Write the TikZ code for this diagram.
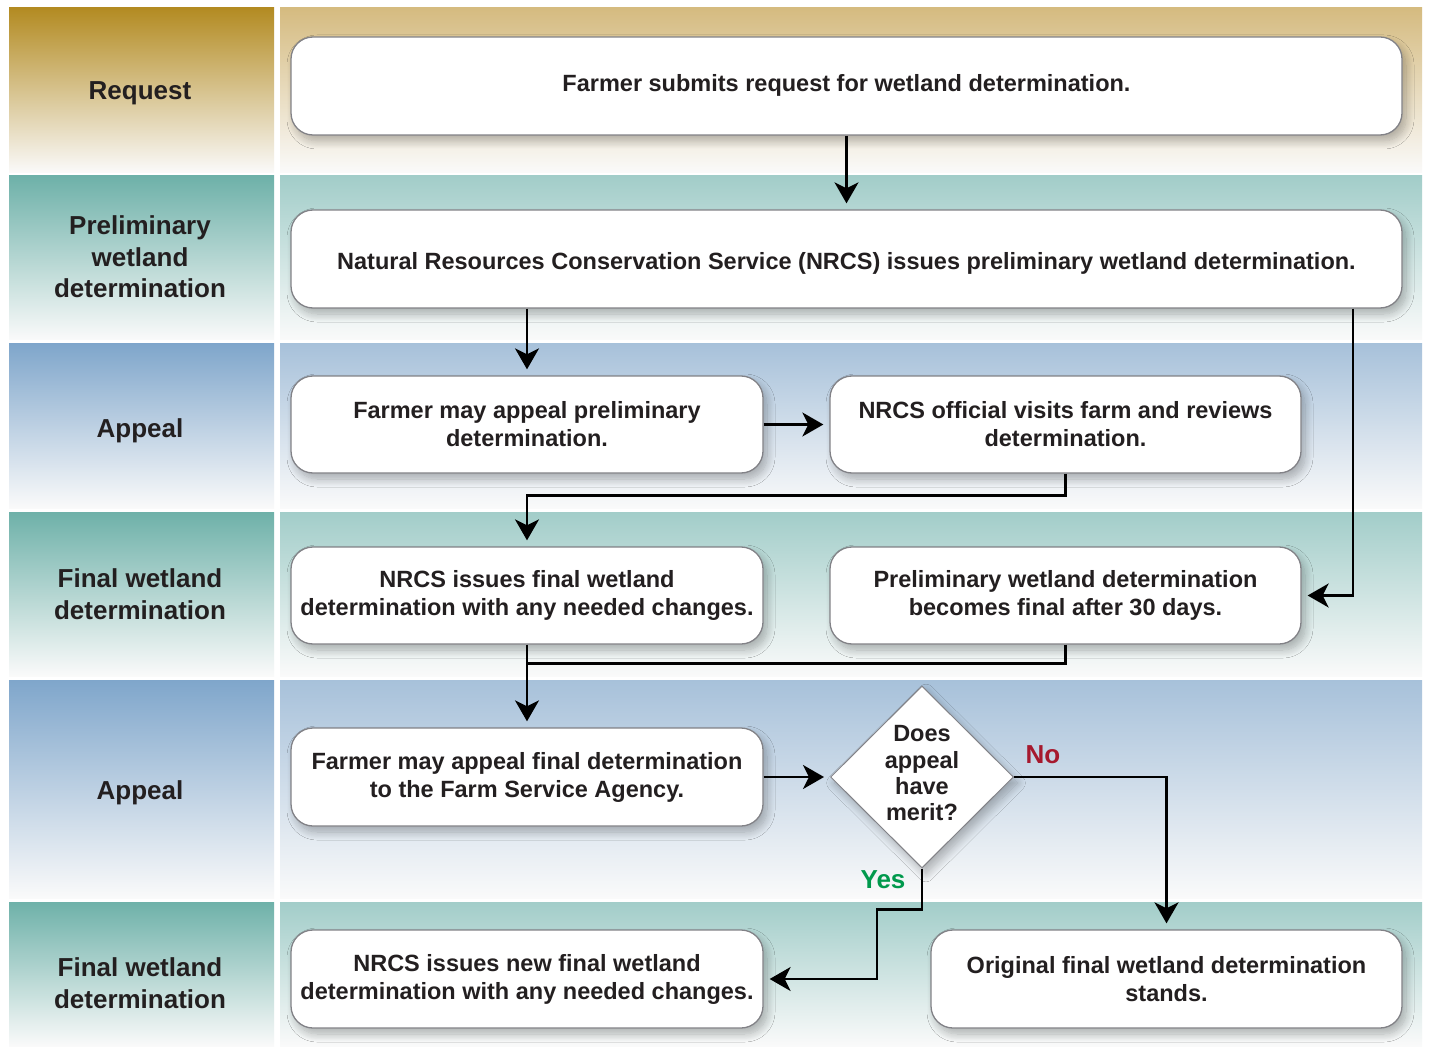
\documentclass[tikz,border=0pt]{standalone}
\usepackage{fontspec}
\setmainfont{Liberation Sans}
\usetikzlibrary{arrows.meta,shapes.geometric,shadows.blur}
\definecolor{goldA}{RGB}{179,139,34}
\definecolor{goldB}{RGB}{213,187,128}
\definecolor{tealA}{RGB}{110,177,169}
\definecolor{tealB}{RGB}{162,205,201}
\definecolor{blueA}{RGB}{127,166,203}
\definecolor{blueB}{RGB}{167,193,218}
\definecolor{txt}{RGB}{35,31,32}
\definecolor{nored}{RGB}{166,25,46}
\definecolor{yesgreen}{RGB}{0,153,76}
\definecolor{fadew}{RGB}{250,250,250}
\definecolor{boxline}{RGB}{130,130,135}
\newcommand{\lowered}[2]{\raisebox{#1}[\height][\depth]{#2}}
\begin{document}
\begin{tikzpicture}[x=1pt,y=-1pt,
  boxfont/.style={font=\fontsize{23.5}{28}\selectfont\bfseries},
  shadowed/.style={blur shadow={shadow xshift=4pt, shadow yshift=-6pt, shadow blur radius=8pt, shadow opacity=28, shadow blur steps=14}},
  box/.style={draw=boxline, line width=1.3pt, fill=white, rounded corners=22pt,
    align=center, text=txt, boxfont, inner sep=0pt, shadowed,
    minimum width=472pt, minimum height=97pt},
  widebox/.style={box, minimum width=1111pt, minimum height=98pt},
  decision/.style={diamond, aspect=1, draw=boxline, line width=1pt, fill=white,
    align=center, text=txt, font=\fontsize{23.5}{26.3}\selectfont\bfseries,
    inner sep=0pt, minimum width=183pt, minimum height=182pt, shadowed},
  lanelabel/.style={align=center, text=txt, font=\fontsize{26}{31.5}\selectfont\bfseries},
  flow/.style={line width=2.5pt, draw=black},
  arr/.style={flow, -{Stealth[length=21pt,width=24pt,inset=6pt]}, shorten >=6pt},
  band/.style={draw=none, shading=axis, bottom color=fadew}
]
\useasboundingbox (0,0) rectangle (1429,1048);
\fill[white] (0,0) rectangle (1429,1048);
% lanes
\foreach \ya/\yb/\ca/\cb in {8/173/goldA/goldB, 176/340/tealA/tealB, 344/508/blueA/blueB,
                             512/676/tealA/tealB, 680/898/blueA/blueB, 902/1046/tealA/tealB}{
  \shade[band, top color=\ca] (9,\ya) rectangle (274,\yb);
  \shade[band, top color=\cb] (280,\ya) rectangle (1422,\yb);
}
% lane labels
\node[lanelabel] (l1) at (140,93) {Request};
\node[lanelabel] (l2) at (140,257) {Preliminary\\wetland\\determination};
\node[lanelabel] (l3) at (140,431) {Appeal};
\node[lanelabel] (l4) at (140,594) {Final wetland\\determination};
\node[lanelabel] (l5) at (140,793) {Appeal};
\node[lanelabel] (l6) at (140,983) {Final wetland\\determination};
% boxes
\node[widebox] (b1) at (846.5,86) {\lowered{1pt}{Farmer submits request for wetland determination.}};
\node[widebox] (b2) at (846.5,259) {\lowered{-4pt}{Natural Resources Conservation Service (NRCS) issues preliminary wetland determination.}};
\node[box] (b3) at (527,424.5) {Farmer may appeal preliminary\\determination.};
\node[box, minimum width=471pt] (b4) at (1065.5,424.5) {NRCS official visits farm and reviews\\determination.};
\node[box] (b5) at (527,595.5) {NRCS issues final wetland\\determination with any needed changes.};
\node[box, minimum width=471pt] (b6) at (1065.5,595.5) {Preliminary wetland determination\\becomes final after 30 days.};
\node[box, minimum height=98pt] (b7) at (527,777) {Farmer may appeal final determination\\to the Farm Service Agency.};
\node[decision] (d1) at (922,777) {\lowered{1pt}{\begin{tabular}{@{}c@{}}Does\\appeal\\have\\merit?\end{tabular}}};
\node[box, minimum height=98pt] (b8) at (527,979) {NRCS issues new final wetland\\determination with any needed changes.};
\node[box, minimum width=471pt, minimum height=98pt] (b9) at (1166.5,979) {Original final wetland determination\\stands.};
\coordinate (rx) at (1353,0);
\coordinate (yx) at (877,0);
% connectors
\draw[arr] (b1.south) -- (b2.north);
\draw[arr] (b3.north |- b2.south) -- (b3.north);
\draw[arr] (b2.south -| rx) |- (b6.east);
\draw[arr] (b3.east) -- (b4.west);
\draw[arr] (b4.south) -- ++(0,22) -| (b5.north);
\draw[flow] (b6.south) -- ++(0,19) -| (b5.south);
\draw[arr] (b5.south) -- (b7.north);
\draw[arr] (b7.east) -- (d1.west);
\draw[arr] (d1.east) -| (b9.north);
\draw[arr] (d1.south) -- ++(0,41) -| (yx |- b8.east) -- (b8.east);
% labels
\node[text=nored, font=\fontsize{26}{30}\selectfont\bfseries] (no) at (1043,755) {No};
\node[text=yesgreen, font=\fontsize{26}{30}\selectfont\bfseries] (yes) at (883,880) {Yes};
\end{tikzpicture}
\end{document}
